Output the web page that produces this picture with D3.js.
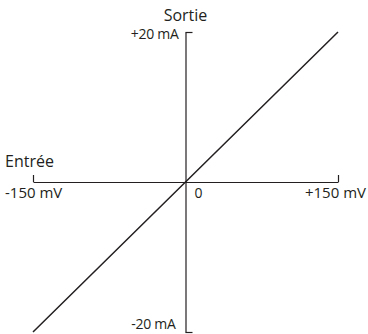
<!DOCTYPE html>
<html>
<head>
<meta charset="utf-8">
<script src="https://cdn.jsdelivr.net/npm/d3@7"></script>
<style>
  body { margin: 0; background: #fff; }
  text { font-family: "Open Sans", sans-serif; fill: #231f20; }
  .axis path, .axis line { stroke: #231f20; stroke-width: 1.2; }
</style>
</head>
<body>
<div id="chart"></div>
<script>
// transfer characteristic: input (mV) -> output (mA)
const entree = [-150, 0, 150];
const sortie = [-20, 0, 20];
const xTicks = [-150, 150];
const yTicks = [-20, 20];
const xTickLabels = ["-150 mV", "+150 mV"];
const yTickLabels = ["-20 mA", "+20 mA"];

const width = 368, height = 334;

const svg = d3.select("#chart")
  .append("svg")
    .attr("width", width)
    .attr("height", height);

const x = d3.scaleLinear().domain([-150, 150]).range([33, 338]);
const y = d3.scaleLinear().domain([-20, 20]).range([332, 32]);

// horizontal axis, ticks pointing up
svg.append("g")
  .attr("class", "axis")
  .attr("transform", "translate(0," + y(0) + ")")
  .call(d3.axisTop(x).tickValues(xTicks).tickSize(7).tickSizeOuter(0).tickFormat(""))
  .call(g => g.selectAll("text").remove());

// vertical axis, ticks pointing right
svg.append("g")
  .attr("class", "axis")
  .attr("transform", "translate(" + x(0) + ",0)")
  .call(d3.axisRight(y).tickValues(yTicks).tickSize(7).tickSizeOuter(0).tickFormat(""))
  .call(g => g.selectAll("text").remove());

// the response line
const line = d3.line()
  .x(function(d, i) { return x(entree[i]); })
  .y(function(d, i) { return y(sortie[i]); });

svg.append("path")
  .datum(entree)
  .attr("d", line)
  .attr("fill", "none")
  .attr("stroke", "#231f20")
  .attr("stroke-width", 1.5);

// tick labels
svg.append("text")
  .attr("x", 5)
  .attr("y", y(0) + 16)
  .attr("font-size", 15)
  .text(xTickLabels[0]);

svg.append("text")
  .attr("x", 366)
  .attr("y", y(0) + 16)
  .attr("text-anchor", "end")
  .attr("font-size", 15)
  .text(xTickLabels[1]);

svg.append("text")
  .attr("x", x(0) + 9)
  .attr("y", y(0) + 16)
  .attr("font-size", 14)
  .text("0");

svg.append("text")
  .attr("x", x(0) - 7)
  .attr("y", y(yTicks[1]) + 7)
  .attr("text-anchor", "end")
  .attr("font-size", 14)
  .attr("letter-spacing", -0.3)
  .text(yTickLabels[1]);

svg.append("text")
  .attr("x", x(0) - 10)
  .attr("y", 329)
  .attr("text-anchor", "end")
  .attr("font-size", 14)
  .attr("letter-spacing", -0.3)
  .text(yTickLabels[0]);

// axis titles
svg.append("text")
  .attr("x", x(0))
  .attr("y", 21)
  .attr("text-anchor", "middle")
  .attr("font-size", 16)
  .text("Sortie");

svg.append("text")
  .attr("x", 5)
  .attr("y", 167)
  .attr("font-size", 16)
  .text("Entrée");
</script>
</body>
</html>
